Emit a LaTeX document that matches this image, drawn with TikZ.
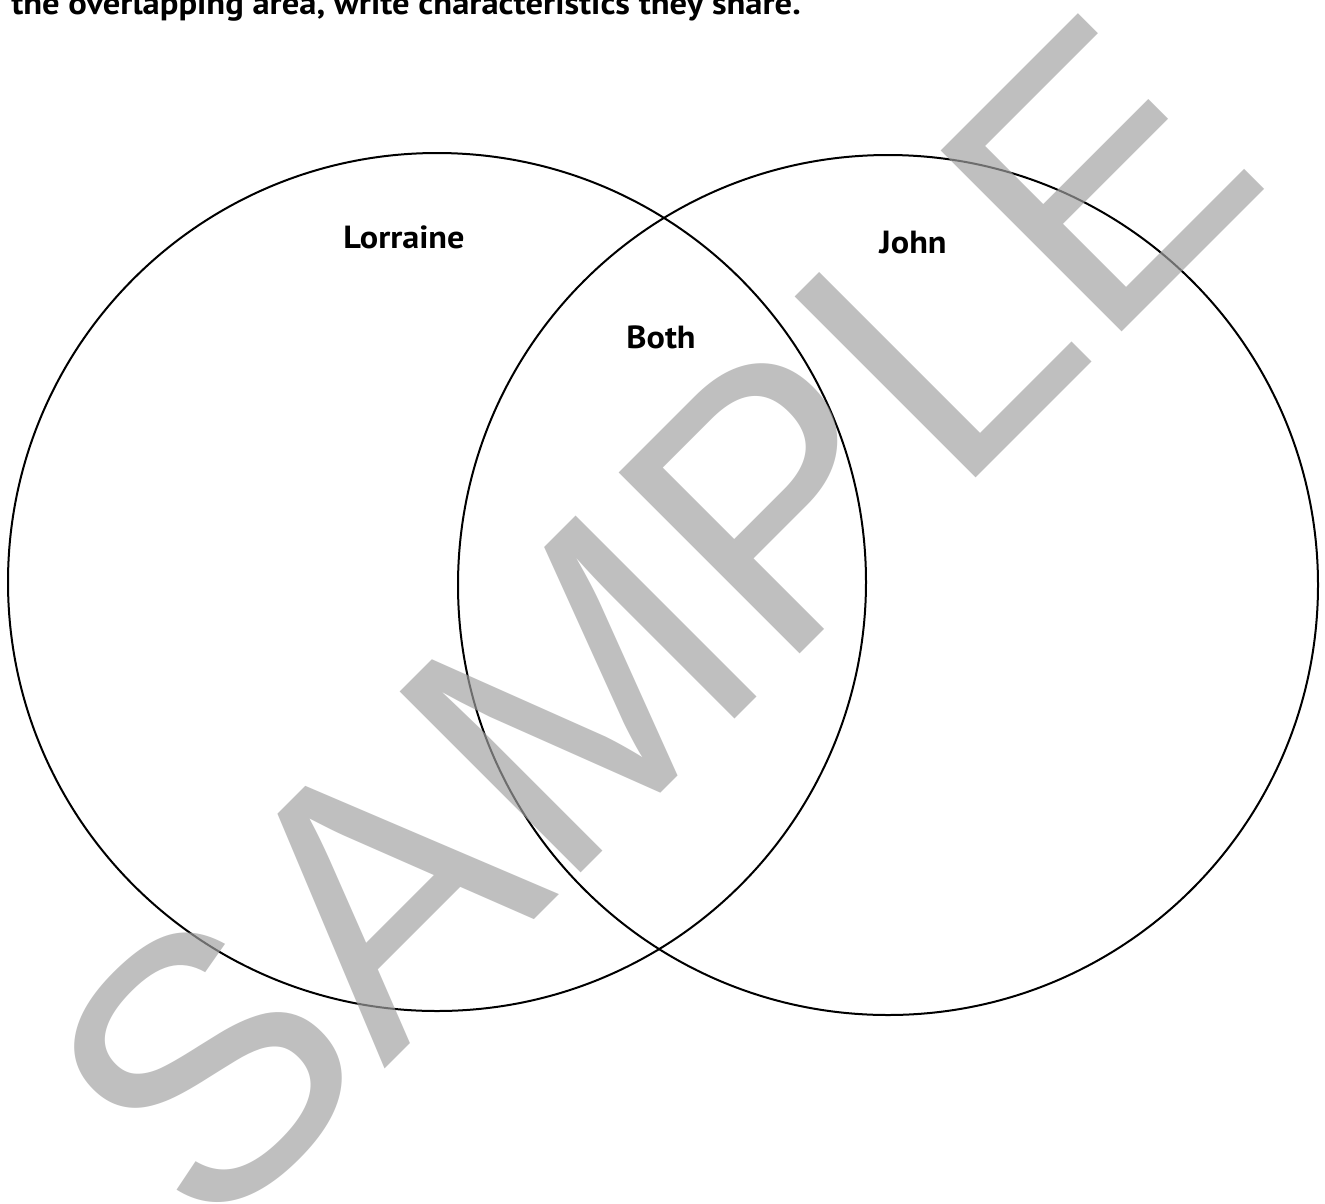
\documentclass[tikz,border=0pt]{standalone}
\usepackage{fontspec}
\newfontfamily\labelfont{PT Sans}[FakeStretch=1.07]
\newfontfamily\headfont{PT Sans}[FakeStretch=1.08]
\newfontfamily\wmfont{Liberation Sans}
\begin{document}
\begin{tikzpicture}[x=1pt,y=-1pt,
  ring/.style={draw=black, line width=2pt},
  lbl/.style={font=\labelfont\bfseries\fontsize{32}{36}\selectfont, inner sep=0pt, anchor=base},
  headtext/.style={font=\headfont\bfseries\fontsize{32}{36}\selectfont, inner sep=0pt, anchor=base east},
  wm/.style={font=\wmfont\fontsize{372}{372}\selectfont, text=black!37, text opacity=0.68, inner sep=0pt, anchor=base, rotate=45}]
\useasboundingbox (0,0) rectangle (1325,1203);
\fill[white] (0,0) rectangle (1325,1203);
\node[headtext] (head) at (801,14) {the overlapping area, write characteristics they share.};
\node[ring, circle, minimum size=858pt, inner sep=0pt] (left) at (437,582) {};
\node[ring, circle, minimum size=860pt, inner sep=0pt] (right) at (888,585) {};
\node[lbl] (lorraine) at (404,248) {Lorraine};
\node[lbl] (both) at (661,348) {Both};
\node[lbl] (john) at (913,253) {John};
\node[wm] (sample) at (742.3,711.7) {SAMPLE};
\end{tikzpicture}
\end{document}
